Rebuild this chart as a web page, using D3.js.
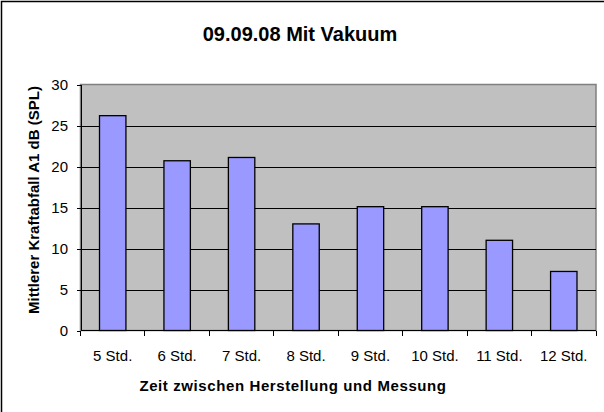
<!DOCTYPE html>
<meta charset="utf-8">
<style>
body { margin: 0; background: #fff; }
svg { display: block; font-family: "Liberation Sans", Arial, sans-serif; }
.grid line { stroke: #000; stroke-width: 1; shape-rendering: crispEdges; }
.grid path { stroke-width: 0; }
.axis path, .axis line { stroke: #000; shape-rendering: crispEdges; }
.axis text { font-size: 15px; fill: #000; }
.bar { fill: #9999ff; stroke: #000; stroke-width: 1.3; }
.label { font-weight: bold; fill: #000; }
</style>
<body>
<script src="https://d3js.org/d3.v7.min.js"></script>
<script>

// data
var categories = ["5 Std.", "6 Std.", "7 Std.", "8 Std.", "9 Std.", "10 Std.", "11 Std.", "12 Std."];
var values = [26.2, 20.7, 21.1, 13.0, 15.1, 15.1, 11.0, 7.2];
var yTicks = [0, 5, 10, 15, 20, 25, 30];

var W = 604, H = 412;
var plot = {left: 80.5, right: 596, top: 84.5, bottom: 330.5};

var svg = d3.select("body").append("svg")
    .attr("width", W)
    .attr("height", H);

// chart border (right / bottom run off the picture)
svg.append("rect")
    .attr("x", 1.5).attr("y", 1.5)
    .attr("width", W + 20).attr("height", H + 20)
    .attr("fill", "#fff")
    .attr("stroke", "#000")
    .attr("stroke-width", 1.5);

var x = d3.scaleBand()
    .domain(categories)
    .range([plot.left, plot.right])
    .paddingInner(0.59)
    .paddingOuter(0.295);

var xTicks = d3.scaleBand().domain(categories).range([plot.left, plot.right]);

var y = d3.scaleLinear()
    .domain([0, 30])
    .range([plot.bottom, plot.top]);

// plot area
svg.append("rect")
    .attr("x", plot.left).attr("y", plot.top)
    .attr("width", plot.right - plot.left)
    .attr("height", plot.bottom - plot.top)
    .attr("fill", "#c0c0c0")
    .attr("stroke", "#808080")
    .attr("stroke-width", 1.5);

// gridlines
svg.append("g")
    .attr("class", "grid")
    .attr("transform", "translate(" + plot.left + ",0)")
    .call(d3.axisLeft(y).tickValues(yTicks.slice(1, -1))
        .tickSize(-(plot.right - plot.left))
        .tickFormat(""));

// bars
svg.selectAll(".bar")
    .data(values)
    .enter().append("rect")
    .attr("class", "bar")
    .attr("x", function(d, i) { return x(categories[i]); })
    .attr("width", x.bandwidth())
    .attr("y", function(d) { return y(d); })
    .attr("height", function(d) { return y(0) - y(d); });

// y axis
var yAxis = svg.append("g")
    .attr("class", "axis")
    .attr("transform", "translate(" + plot.left + ",0)")
    .call(d3.axisLeft(y).tickValues(yTicks).tickSize(4).tickPadding(8.5).tickSizeOuter(0));
yAxis.selectAll("text").attr("dy", "0.36em");

// x axis: ticks at category boundaries
var xAxis = svg.append("g")
    .attr("class", "axis")
    .attr("transform", "translate(0," + plot.bottom + ")");
xAxis.append("line")
    .attr("x1", plot.left).attr("x2", plot.right)
    .attr("stroke", "#000").attr("stroke-width", 1.5);
xAxis.selectAll(".tk")
    .data(categories.concat(["end"]))
    .enter().append("line")
    .attr("class", "tk")
    .attr("x1", function(d, i) { return plot.left + i * xTicks.step(); })
    .attr("x2", function(d, i) { return plot.left + i * xTicks.step(); })
    .attr("y1", 0).attr("y2", 5);
xAxis.selectAll(".cat")
    .data(categories)
    .enter().append("text")
    .attr("class", "cat")
    .attr("x", function(d) { return xTicks(d) + xTicks.bandwidth() / 2; })
    .attr("y", 30.5)
    .attr("text-anchor", "middle")
    .text(function(d) { return d; });

// title
svg.append("text")
    .attr("class", "label")
    .attr("x", 300)
    .attr("y", 40.5)
    .attr("text-anchor", "middle")
    .style("font-size", "20px")
    .text("09.09.08 Mit Vakuum");

// x axis title
svg.append("text")
    .attr("class", "label")
    .attr("x", 293)
    .attr("y", 391)
    .attr("text-anchor", "middle")
    .style("font-size", "15px")
    .style("letter-spacing", "0.6px")
    .text("Zeit zwischen Herstellung und Messung");

// y axis title
svg.append("text")
    .attr("class", "label")
    .attr("transform", "translate(39,200) rotate(-90)")
    .attr("text-anchor", "middle")
    .style("font-size", "15px")
    .text("Mittlerer Kraftabfall A1 dB (SPL)");

</script>
</body>
